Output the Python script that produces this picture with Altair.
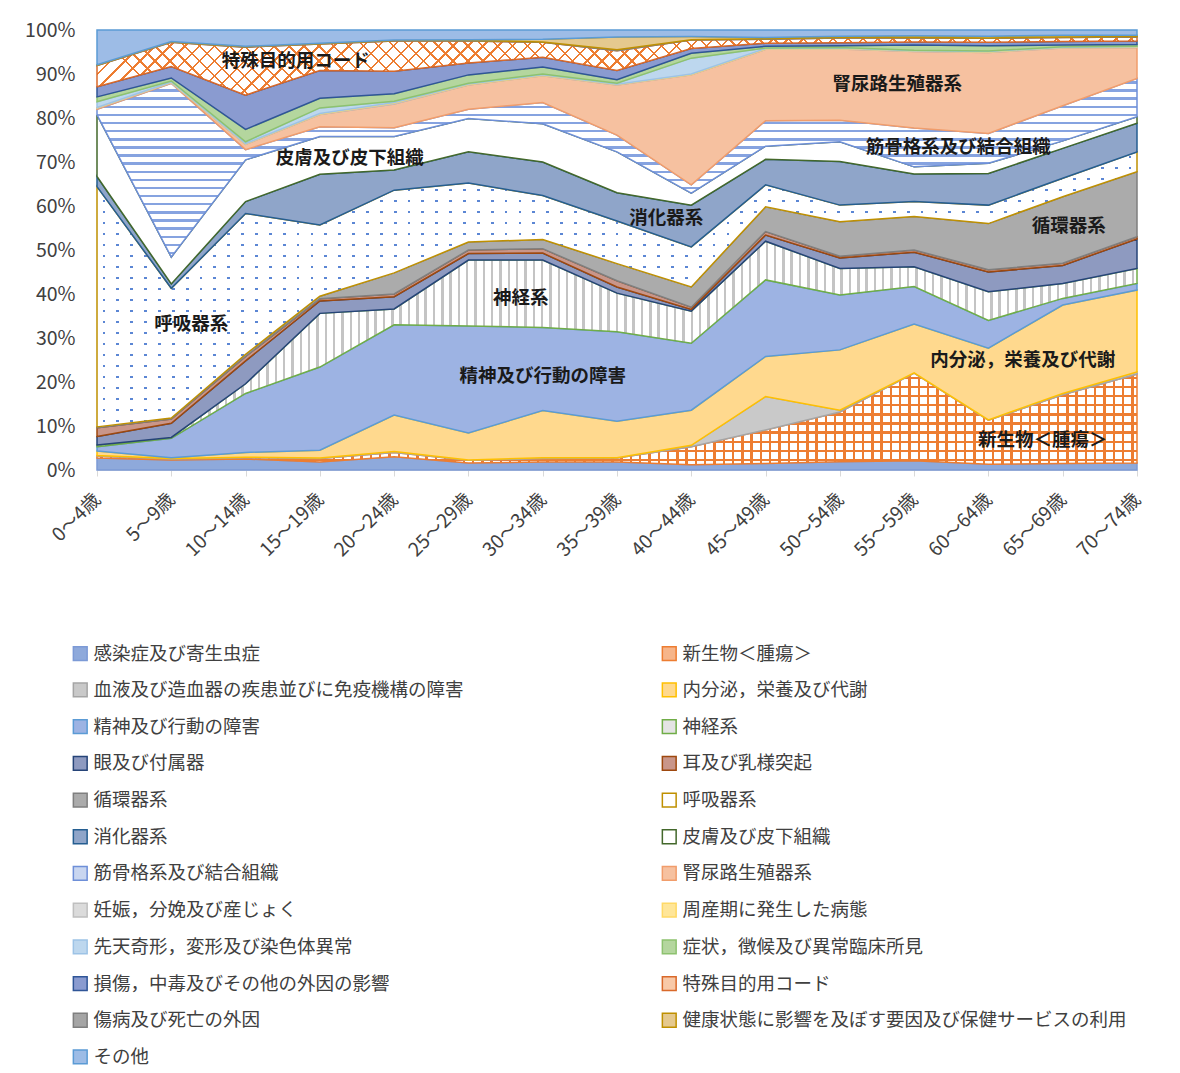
import altair as alt
import pandas as pd

FONT = "Noto Sans CJK JP"

ages = ["0～4歳", "5～9歳", "10～14歳", "15～19歳", "20～24歳", "25～29歳", "30～34歳",
        "35～39歳", "40～44歳", "45～49歳", "50～54歳", "55～59歳", "60～64歳", "65～69歳", "70～74歳"]

# Share (%) of each disease group in every age band, listed from the bottom of the stack up
infection = [2.7, 2.3, 2.5, 1.8, 3.0, 1.6, 1.8, 1.8, 1.2, 1.5, 1.9, 2.1, 1.3, 1.5, 1.6]
neoplasm = [0.5, 0.2, 0.3, 0.8, 1.0, 0.6, 0.8, 0.9, 4.1, 7.6, 11.3, 19.9, 10.0, 15.6, 20.2]
blood = [0.1, 0.1, 0.1, 0.1, 0.2, 0.1, 0.2, 0.1, 0.3, 7.6, 0.4, 0.1, 0.1, 0.3, 0.5]
endocrine = [1.0, 0.2, 1.1, 1.8, 8.3, 6.1, 10.7, 8.3, 8.0, 9.1, 13.7, 11.1, 16.3, 20.1, 18.6]
mental = [1.0, 4.4, 13.4, 18.9, 20.5, 24.3, 18.9, 20.3, 15.2, 17.4, 12.5, 8.5, 6.3, 1.5, 1.5]
nervous = [0.4, 0.2, 2.2, 12.2, 3.6, 15.0, 15.3, 8.8, 7.3, 8.8, 6.0, 4.5, 6.5, 3.4, 3.4]
eye = [1.9, 3.2, 5.2, 2.8, 2.8, 1.5, 1.6, 1.4, 0.4, 1.4, 2.4, 3.3, 4.5, 4.1, 6.7]
ear = [2.0, 1.0, 1.0, 0.5, 0.6, 0.8, 1.0, 1.4, 0.5, 0.8, 0.4, 0.5, 0.5, 0.5, 0.5]
circulatory = [0.2, 0.2, 0.5, 0.6, 4.8, 1.8, 2.1, 3.9, 4.6, 5.6, 7.8, 7.6, 10.5, 15.1, 14.8]
respiratory = [54.6, 29.5, 32.0, 16.2, 18.8, 13.4, 10.0, 9.7, 9.1, 5.0, 3.8, 3.4, 4.2, 4.2, 4.5]
digestive = [2.3, 1.0, 2.7, 11.5, 4.6, 7.1, 7.6, 6.4, 9.5, 5.8, 9.9, 6.3, 7.2, 6.8, 6.5]
skin = [14.0, 6.1, 9.5, 8.6, 7.6, 7.6, 8.7, 9.3, 2.7, 3.0, 4.5, 1.6, 2.3, 1.7, 1.5]
musculo = [1.3, 39.5, 2.3, 2.2, 2.0, 2.1, 4.8, 3.8, 1.9, 5.8, 4.9, 8.8, 6.8, 8.0, 8.7]
genito = [0.2, 0.1, 1.2, 2.8, 5.4, 5.5, 6.1, 11.4, 25.0, 16.2, 16.2, 17.4, 18.4, 13.1, 7.0]
pregnancy = [0.1, 0.1, 0.1, 0.1, 0.2, 0.1, 0.1, 0.1, 0.1, 0.1, 0.1, 0.1, 0.1, 0.1, 0.1]
perinatal = [0.1, 0.1, 0.1, 0.1, 0.1, 0.1, 0.1, 0.1, 0.1, 0.1, 0.1, 0.1, 0.1, 0.1, 0.1]
congenital = [1.3, 0.2, 0.4, 1.3, 0.3, 0.2, 0.2, 0.2, 3.6, 0.1, 0.1, 0.1, 0.1, 0.1, 0.1]
symptoms = [1.1, 0.7, 2.8, 2.2, 1.7, 1.9, 1.6, 0.8, 1.1, 0.4, 0.4, 1.2, 1.2, 0.4, 0.4]
injury = [2.3, 2.6, 7.8, 6.3, 5.1, 2.7, 2.2, 2.1, 1.1, 0.7, 0.7, 0.7, 0.8, 0.8, 0.8]
special = [4.8, 5.5, 10.9, 6.0, 6.9, 5.0, 3.4, 4.5, 1.9, 0.9, 1.1, 0.9, 0.9, 0.9, 0.9]
external = [0.1, 0.1, 0.1, 0.1, 0.1, 0.1, 0.1, 0.2, 0.1, 0.1, 0.1, 0.1, 0.1, 0.1, 0.1]
health = [0.1, 0.1, 0.1, 0.1, 0.1, 0.2, 0.6, 2.9, 0.7, 0.3, 0.3, 0.4, 0.4, 0.4, 0.3]
other = [7.9, 2.6, 3.7, 3.0, 2.3, 2.2, 2.1, 1.6, 1.5, 1.7, 1.4, 1.3, 1.4, 1.2, 1.2]

names = ["感染症及び寄生虫症", "新生物＜腫瘍＞", "血液及び造血器の疾患並びに免疫機構の障害",
         "内分泌，栄養及び代謝", "精神及び行動の障害", "神経系", "眼及び付属器", "耳及び乳様突起",
         "循環器系", "呼吸器系", "消化器系", "皮膚及び皮下組織", "筋骨格系及び結合組織",
         "腎尿路生殖器系", "妊娠，分娩及び産じょく", "周産期に発生した病態", "先天奇形，変形及び染色体異常",
         "症状，徴候及び異常臨床所見", "損傷，中毒及びその他の外因の影響", "特殊目的用コード",
         "傷病及び死亡の外因", "健康状態に影響を及ぼす要因及び保健サービスの利用", "その他"]
series_values = [infection, neoplasm, blood, endocrine, mental, nervous, eye, ear, circulatory,
                 respiratory, digestive, skin, musculo, genito, pregnancy, perinatal, congenital,
                 symptoms, injury, special, external, health, other]

# In-chart category labels: text, anchor age band, height (share of total)
ann_text = ["特殊目的用コード", "腎尿路生殖器系", "皮膚及び皮下組織", "筋骨格系及び結合組織", "消化器系",
            "循環器系", "神経系", "呼吸器系", "内分泌，栄養及び代謝", "精神及び行動の障害", "新生物＜腫瘍＞"]
ann_age = ["15～19歳", "55～59歳", "15～19歳", "55～59歳", "40～44歳",
           "65～69歳", "30～34歳", "5～9歳", "65～69歳", "30～34歳", "65～69歳"]
ann_pos = [0.930, 0.877, 0.709, 0.734, 0.573, 0.555, 0.391, 0.332, 0.250, 0.214, 0.068]
ann_dx = [-24, -17, 30, 44, -25, 6, -22, 20, -40, 0, -20]

rows = []
for k, (name, vals) in enumerate(zip(names, series_values)):
    for age, v in zip(ages, vals):
        rows.append({"age": age, "series": name, "value": v, "order": k})
df = pd.DataFrame(rows)

CLEAR = "rgba(255,255,255,0)"


def stripes(on, off, n, frac, x1=0, y1=0, x2=1, y2=0):
    """Hard-edged repeating stripes from a linear gradient; each period is gap-stripe-gap,
    so anything padded beyond the ends takes the gap colour."""
    stops = []
    for i in range(n):
        a, c = i / n, (i + 1) / n
        b1 = (i + (1 - frac) / 2) / n
        b2 = (i + (1 + frac) / 2) / n
        stops += [alt.GradientStop(color=off, offset=a), alt.GradientStop(color=off, offset=b1),
                  alt.GradientStop(color=on, offset=b1), alt.GradientStop(color=on, offset=b2),
                  alt.GradientStop(color=off, offset=b2), alt.GradientStop(color=off, offset=c)]
    return alt.LinearGradient(gradient="linear", stops=stops, x1=x1, y1=y1, x2=x2, y2=y2)


ORANGE = "#ED7D31"
# fill layers (drawn in order) and outline colour of each series
paint = {
    names[0]: (["#8EA9DB"], "#7C9AD6"),
    names[1]: ([stripes(ORANGE, "white", 112, 0.27),
                stripes(ORANGE, CLEAR, 10, 0.27, x2=0, y2=1)], ORANGE),
    names[2]: (["#C9C9C9"], "#A5A5A5"),
    names[3]: (["#FFD98E"], "#FFC000"),
    names[4]: (["#9DB3E3"], "#5B9BD5"),
    names[5]: ([stripes("#C4C4C4", "white", 125, 0.3)], "#70AD47"),
    names[6]: (["#8E9AC0"], "#264478"),
    names[7]: (["#C9968A"], "#9E480E"),
    names[8]: (["#ABABAB"], "#7F7F7F"),
    names[9]: ([stripes("#5B86D4", "white", 75, 0.2),
                stripes(CLEAR, "white", 25, 0.2, x2=0, y2=1)], "#BF9000"),
    names[10]: (["#8FA5C9"], "#255E91"),
    names[11]: (["white"], "#43682B"),
    names[12]: ([stripes("#86A3E0", "white", 22, 0.3, x2=0, y2=1)], "#6E8FD8"),
    names[13]: (["#F6C1A0"], "#F19D6B"),
    names[14]: (["#DBDBDB"], "#BFBFBF"),
    names[15]: (["#FFE699"], "#FFD966"),
    names[16]: (["#BDD7EE"], "#9DC3E6"),
    names[17]: (["#B4D69E"], "#8DC26F"),
    names[18]: (["#8A9BD0"], "#2F5597"),
    names[19]: ([stripes(ORANGE, "white", 70, 0.16, x2=1, y2=0.056),
                 stripes(ORANGE, CLEAR, 70, 0.16, y1=0.056, x2=1, y2=0)], "#D9692A"),
    names[20]: (["#A5A5A5"], "#7F7F7F"),
    names[21]: (["#E5C98E"], "#BF9000"),
    names[22]: (["#9DBCE6"], "#5B9BD5"),
}

legend_fill = ["#8EA9DB", "#F6B58A", "#C9C9C9", "#FFD98E", "#9DB3E3", "#E4E4E4", "#8E9AC0",
               "#C9968A", "#ABABAB", "#FFFFFF", "#8FA5C9", "#FFFFFF", "#C9D6F0", "#F6C1A0",
               "#DBDBDB", "#FFE699", "#BDD7EE", "#B4D69E", "#8A9BD0", "#F8C9A8", "#A5A5A5",
               "#E5C98E", "#9DBCE6"]
legend_stroke = [paint[n][1] for n in names]

x_enc = alt.X(
    "age:O", sort=ages,
    scale=alt.Scale(type="point", padding=0, domain=ages),
    axis=alt.Axis(title=None, labelAngle=-45, labelAlign="right", labelBaseline="middle",
                  labelFontSize=19, labelColor="#404040", labelFont=FONT, labelPadding=20,
                  tickSize=6, tickColor="#D9D9D9", domainColor="#D9D9D9", grid=False),
)
y_axis = alt.Axis(title=None, format=".0%", values=[i / 10 for i in range(11)], labelFontSize=19.5,
                  labelColor="#404040", labelFont=FONT, domain=False, ticks=False, tickSize=0,
                  labelPadding=22, grid=False)
y_scale = alt.Scale(domain=[0, 1], nice=False)

# swatch-only layer that carries the legend; drawn first so the areas cover its marks
legend_layer = (
    alt.Chart(pd.DataFrame({"series": names}))
    .mark_square(opacity=1, size=1)
    .encode(
        fill=alt.Fill("series:N", scale=alt.Scale(domain=names, range=legend_fill),
                      legend=alt.Legend(title=None, orient="none", legendX=-26, legendY=614,
                                        direction="horizontal", columns=2, columnPadding=195,
                                        rowPadding=15.7, symbolType="square", symbolSize=190,
                                        symbolStrokeWidth=1.5, symbolOpacity=1,
                                        labelFont=FONT, labelFontSize=18.5, labelColor="#404040",
                                        labelLimit=600, labelOffset=4, padding=0)),
        stroke=alt.Stroke("series:N", scale=alt.Scale(domain=names, range=legend_stroke)),
    )
)

area_layers = []
for name in names:
    fills, stroke = paint[name]
    for j, fill in enumerate(fills):
        last = j == len(fills) - 1
        mark = dict(fill=fill, interpolate="linear", opacity=1)
        if last:
            mark.update(stroke=stroke, strokeWidth=1.5)
        else:
            mark.update(strokeWidth=0)
        area_layers.append(
            alt.Chart().mark_area(**mark)
            .encode(x=x_enc, y=alt.Y("y0:Q", scale=y_scale, axis=y_axis), y2="y1:Q")
            .transform_filter(alt.datum.series == name)
        )

areas = alt.layer(*area_layers, data=df).transform_stack(
    stack="value", groupby=["age"], as_=["y0", "y1"], offset="normalize",
    sort=[alt.SortField("order", order="ascending")],
)

text_layers = []
for t, a, p, dx in zip(ann_text, ann_age, ann_pos, ann_dx):
    text_layers.append(
        alt.Chart(pd.DataFrame({"label": [t], "age": [a], "pos": [p]}))
        .mark_text(font=FONT, fontSize=18.5, fontWeight="bold", color="#1A1A1A", dx=dx,
                   align="center", baseline="middle")
        .encode(x=x_enc, y=alt.Y("pos:Q", scale=y_scale, axis=y_axis), text="label:N")
    )

chart = (
    alt.layer(legend_layer, areas, *text_layers)
    .properties(width=1040, height=440, background="white",
                padding={"left": 97, "top": 30, "right": 43, "bottom": 603},
                autosize=alt.AutoSizeParams(type="none"))
    .configure_view(stroke=None)
)

chart.save("out.html", embed_options={"renderer": "svg", "actions": False})
